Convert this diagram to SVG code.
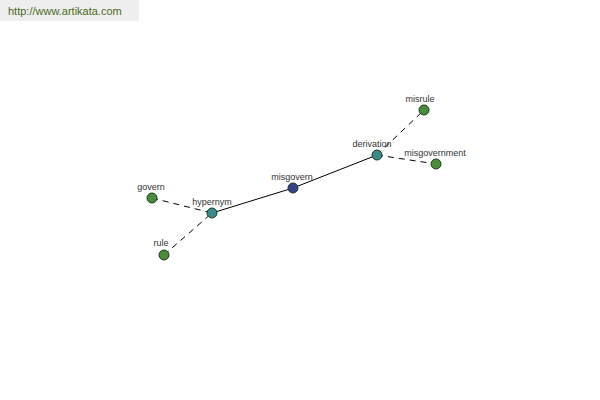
<svg xmlns="http://www.w3.org/2000/svg" width="600" height="400" viewBox="0 0 600 400">
<style>
.lbl{font-family:"Liberation Sans",Arial,sans-serif;font-size:9px;fill:#333;text-anchor:middle}
.n{stroke:#1f3a1f;stroke-width:1}
.g{fill:#4a8c3c}
.t{fill:#3a8c8a}
.b{fill:#34448a}
.s{stroke:#000;stroke-width:1;fill:none}
.d{stroke:#000;stroke-width:1;fill:none;stroke-dasharray:6,5}
</style>
<rect width="600" height="400" fill="#fff"/>
<rect x="0" y="0" width="139" height="21" fill="#eeeeee"/>
<text x="8" y="15" font-family="Liberation Sans,Arial,sans-serif" font-size="11" fill="#4a6a1a">http://www.artikata.com</text>
<g id="connectors">
<line class="s" x1="212" y1="213" x2="293" y2="188"/>
<line class="s" x1="293" y1="188" x2="377" y2="155"/>
<line class="d" x1="152" y1="198" x2="212" y2="213"/>
<line class="d" x1="164" y1="255" x2="212" y2="213"/>
<line class="d" x1="377" y1="155" x2="424" y2="110"/>
<line class="d" x1="377" y1="155" x2="436" y2="164"/>
</g>
<g id="govern"><circle class="n g" cx="152" cy="198" r="5"/><text class="lbl" x="151" y="190">govern</text></g>
<g id="hypernym"><circle class="n t" cx="212" cy="213" r="5"/><text class="lbl" x="212" y="205">hypernym</text></g>
<g id="rule"><circle class="n g" cx="164" cy="255" r="5"/><text class="lbl" x="161" y="246">rule</text></g>
<g id="misgovern"><circle class="n b" cx="293" cy="188" r="5"/><text class="lbl" x="292" y="180">misgovern</text></g>
<g id="derivation"><circle class="n t" cx="377" cy="155" r="5"/><text class="lbl" x="372" y="147">derivation</text></g>
<g id="misrule"><circle class="n g" cx="424" cy="110" r="5"/><text class="lbl" x="420" y="102">misrule</text></g>
<g id="misgovernment"><circle class="n g" cx="436" cy="164" r="5"/><text class="lbl" x="435" y="156">misgovernment</text></g>
</svg>
